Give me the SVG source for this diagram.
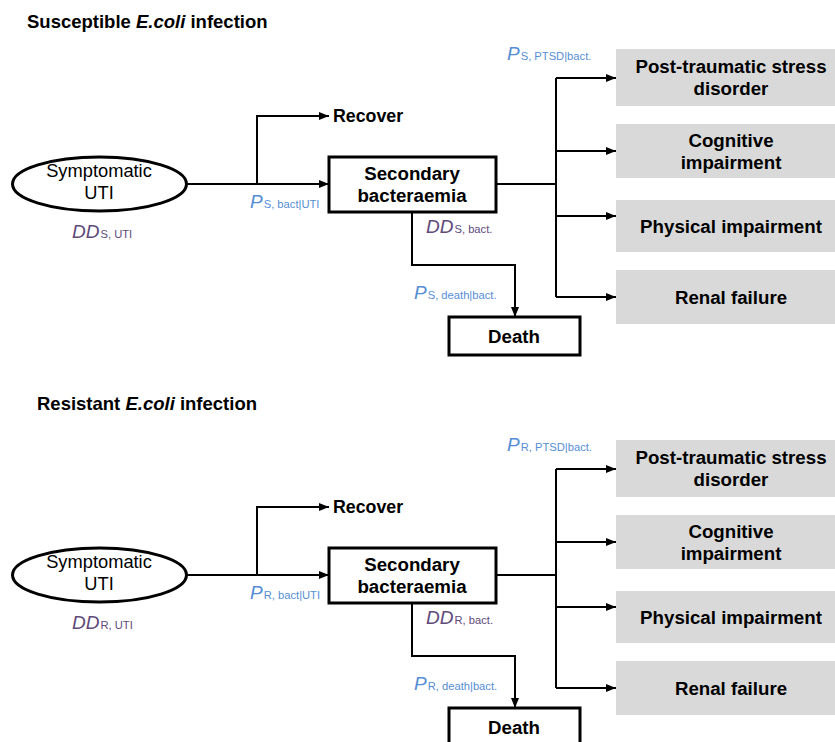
<svg xmlns="http://www.w3.org/2000/svg" width="835" height="742" viewBox="0 0 835 742">
<defs>
<marker id="ah" markerWidth="10" markerHeight="8" refX="10" refY="4" orient="auto" markerUnits="userSpaceOnUse">
<path d="M0,0 L10,4 L0,8 Z" fill="#000"/>
</marker>
<style>
text{font-family:"Liberation Sans",Arial,sans-serif;}
.title{font-size:18.5px;font-weight:bold;}
.b{font-size:18.7px;font-weight:bold;text-anchor:middle;}
.r{font-size:18.3px;text-anchor:middle;}
.rec{font-size:17.8px;font-weight:bold;}
.box{fill:#fff;stroke:#000;stroke-width:3;}
.gray{fill:#d9d9d9;}
.ln{fill:none;stroke:#000;stroke-width:2;}
.arr{fill:none;stroke:#000;stroke-width:2;marker-end:url(#ah);}
.pb{fill:#558ed5;}
.dd{fill:#604a7b;}
.big{font-size:19px;font-style:italic;}
.sub{font-size:11.2px;font-style:normal;}
</style>
</defs>

<text class="title" x="27" y="28">Susceptible <tspan font-style="italic">E.coli</tspan> infection</text>
<text class="title" x="37" y="410">Resistant <tspan font-style="italic">E.coli</tspan> infection</text>

<!-- Susceptible section -->
<g id="susceptible">
<g id="connectors-s">
<path class="arr" d="M187,184 H329" stroke-width="2.5"/>
<path class="arr" d="M257,184 V116 H329"/>
<path class="ln" d="M496,184 H556"/>
<path class="ln" d="M556,78 V297"/>
<path class="arr" d="M556,78 H616"/>
<path class="arr" d="M556,151 H616"/>
<path class="arr" d="M556,216 H616"/>
<path class="arr" d="M556,297 H616"/>
<path class="arr" d="M412,212 V265 H515 V317" stroke-width="1.5"/>
</g>
<g id="s-uti"><ellipse cx="99.5" cy="184" rx="87" ry="27" fill="#fff" stroke="#000" stroke-width="3"/>
<text class="r" x="99" y="177">Symptomatic</text><text class="r" x="99" y="199">UTI</text></g>
<g id="s-recover"><text class="rec" x="333" y="122">Recover</text></g>
<g id="s-bact"><rect class="box" x="329" y="157" width="167" height="55"/>
<text class="b" x="412" y="180">Secondary</text><text class="b" x="412" y="202">bacteraemia</text></g>
<g id="s-death"><rect class="box" x="449" y="317" width="131" height="38"/>
<text class="b" x="514" y="343">Death</text></g>
<g id="s-ptsd"><rect class="gray" x="616" y="49" width="219" height="57"/>
<text class="b" x="731" y="73">Post-traumatic stress</text><text class="b" x="731" y="95">disorder</text></g>
<g id="s-cog"><rect class="gray" x="616" y="124" width="219" height="54"/>
<text class="b" x="731" y="147">Cognitive</text><text class="b" x="731" y="169">impairment</text></g>
<g id="s-phys"><rect class="gray" x="616" y="200" width="219" height="52"/>
<text class="b" x="731" y="233">Physical impairment</text></g>
<g id="s-renal"><rect class="gray" x="616" y="270" width="219" height="54"/>
<text class="b" x="731" y="304">Renal failure</text></g>
<text class="pb big" x="250" y="208">P<tspan class="sub" dx="1">S, bact|UTI</tspan></text>
<text class="dd big" x="72" y="238">DD<tspan class="sub" dx="1">S, UTI</tspan></text>
<text class="dd big" x="426" y="233">DD<tspan class="sub" dx="1">S, bact.</tspan></text>
<text class="pb big" x="414" y="299">P<tspan class="sub" dx="1">S,  death|bact.</tspan></text>
<text class="pb big" x="507" y="60">P<tspan class="sub" dx="1">S, PTSD|bact.</tspan></text>
</g>

<!-- Resistant section -->
<g id="resistant" transform="translate(0,391)">
<g id="connectors-r">
<path class="arr" d="M187,184 H329" stroke-width="2.5"/>
<path class="arr" d="M257,184 V116 H329"/>
<path class="ln" d="M496,184 H556" stroke-width="3"/>
<path class="ln" d="M556,78 V297"/>
<path class="arr" d="M556,78 H616"/>
<path class="arr" d="M556,151 H616"/>
<path class="arr" d="M556,216 H616"/>
<path class="arr" d="M556,297 H616"/>
<path class="arr" d="M412,212 V265 H515 V317" stroke-width="1.5"/>
</g>
<g id="r-uti"><ellipse cx="99.5" cy="184" rx="87" ry="27" fill="#fff" stroke="#000" stroke-width="3"/>
<text class="r" x="99" y="177">Symptomatic</text><text class="r" x="99" y="199">UTI</text></g>
<g id="r-recover"><text class="rec" x="333" y="122">Recover</text></g>
<g id="r-bact"><rect class="box" x="329" y="157" width="167" height="55"/>
<text class="b" x="412" y="180">Secondary</text><text class="b" x="412" y="202">bacteraemia</text></g>
<g id="r-death"><rect class="box" x="449" y="317" width="131" height="38"/>
<text class="b" x="514" y="343">Death</text></g>
<g id="r-ptsd"><rect class="gray" x="616" y="49" width="219" height="57"/>
<text class="b" x="731" y="73">Post-traumatic stress</text><text class="b" x="731" y="95">disorder</text></g>
<g id="r-cog"><rect class="gray" x="616" y="124" width="219" height="54"/>
<text class="b" x="731" y="147">Cognitive</text><text class="b" x="731" y="169">impairment</text></g>
<g id="r-phys"><rect class="gray" x="616" y="200" width="219" height="52"/>
<text class="b" x="731" y="233">Physical impairment</text></g>
<g id="r-renal"><rect class="gray" x="616" y="270" width="219" height="54"/>
<text class="b" x="731" y="304">Renal failure</text></g>
<text class="pb big" x="250" y="208">P<tspan class="sub" dx="1">R, bact|UTI</tspan></text>
<text class="dd big" x="72" y="238">DD<tspan class="sub" dx="1">R, UTI</tspan></text>
<text class="dd big" x="426" y="233">DD<tspan class="sub" dx="1">R, bact.</tspan></text>
<text class="pb big" x="414" y="299">P<tspan class="sub" dx="1">R,  death|bact.</tspan></text>
<text class="pb big" x="507" y="60">P<tspan class="sub" dx="1">R, PTSD|bact.</tspan></text>
</g>
</svg>
